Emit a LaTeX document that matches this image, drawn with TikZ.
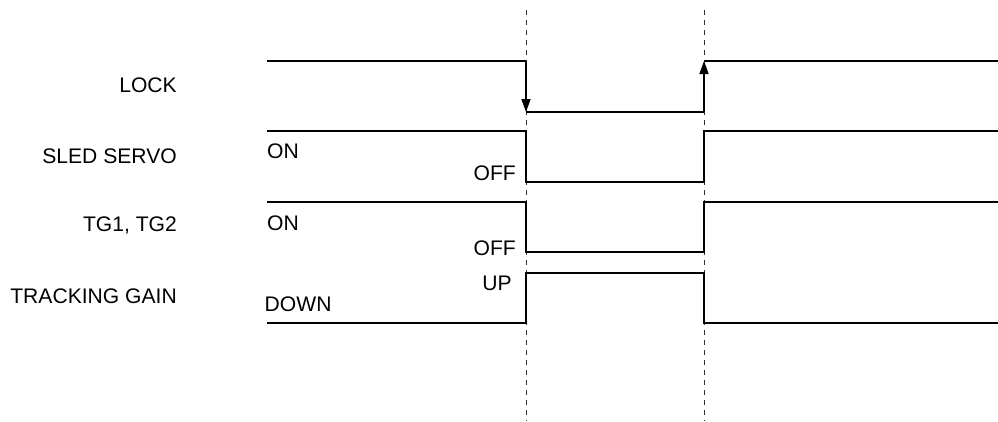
\documentclass[tikz,border=0pt]{standalone}
\usepackage{fontspec}
\setmainfont{Liberation Sans}
\usetikzlibrary{arrows.meta}
\begin{document}
\begin{tikzpicture}[x=1pt,y=-1pt,
  wave/.style={line width=1.5pt,line join=miter},
  guide/.style={line width=0.8pt,dash pattern=on 5pt off 5pt,black!80},
  lbl/.style={inner sep=0pt,font=\fontsize{21.1}{25}\selectfont},
  edge/.style={-{Triangle[length=13pt,width=9pt]}}
]
\useasboundingbox (0,0) rectangle (998,421);
% guide lines
\coordinate (g1t) at (526,10); \coordinate (g1b) at (526,421);
\coordinate (g2t) at (704,10); \coordinate (g2b) at (704,421);
\draw[guide] (g1t) -- (g1b);
\draw[guide] (g2t) -- (g2b);
% signal names
\node[lbl,anchor=base east] (nlock) at (177,92) {LOCK};
\node[lbl,anchor=base east] (nsled) at (177,163) {SLED SERVO};
\node[lbl,anchor=base east] (ntg) at (177,231) {TG1, TG2};
\node[lbl,anchor=base east] (ntrk) at (177,303) {TRACKING GAIN};
% LOCK
\draw[wave] (267,61) -- (526,61);
\draw[wave,edge] (526,61) -- (526,112);
\draw[wave] (526,112) -- (704,112);
\draw[wave,edge] (704,112) -- (704,61);
\draw[wave] (704,61) -- (998,61);
% SLED SERVO
\draw[wave] (267,131) -- (526,131) -- (526,182) -- (704,182) -- (704,131) -- (998,131);
\node[lbl,anchor=base west] (on1) at (267,158) {ON};
\node[lbl,anchor=base east] (off1) at (516,180) {OFF};
% TG1, TG2
\draw[wave] (267,202) -- (526,202) -- (526,252) -- (704,252) -- (704,202) -- (998,202);
\node[lbl,anchor=base west] (on2) at (267,230.5) {ON};
\node[lbl,anchor=base east] (off2) at (516,255) {OFF};
% TRACKING GAIN
\draw[wave] (267,323) -- (526,323) -- (526,273) -- (704,273) -- (704,323) -- (998,323);
\node[lbl,anchor=base west] (down) at (264.5,311.5) {DOWN};
\node[lbl,anchor=base east] (up) at (512,290.5) {UP};
\end{tikzpicture}
\end{document}
